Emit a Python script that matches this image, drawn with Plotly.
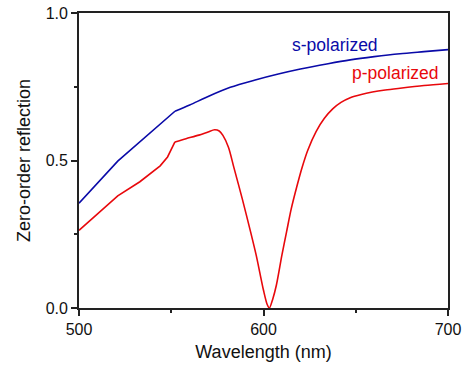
import plotly.graph_objects as go

# Zero-order reflection spectra for s- and p-polarized light
wl_s = [500, 521, 552, 560, 570, 582, 595, 608, 620, 635, 647, 660, 674, 687, 700]
refl_s = [0.355, 0.498, 0.667, 0.688, 0.717, 0.748, 0.772, 0.793, 0.810, 0.828,
          0.841, 0.852, 0.862, 0.869, 0.876]

wl_p = [500, 511, 521, 533, 544, 548, 550, 552, 558, 565, 570, 573.5, 576, 578,
        581, 584, 588.5, 593, 596, 598, 600, 602, 603.2, 605, 607, 610, 612.5, 615,
        618, 621, 624, 628.5, 633, 637.5, 642, 647, 653, 659, 666, 674, 687, 700]
refl_p = [0.263, 0.323, 0.380, 0.428, 0.482, 0.512, 0.535, 0.563, 0.574, 0.586,
          0.597, 0.604, 0.600, 0.585, 0.545, 0.475, 0.370, 0.258, 0.180, 0.120,
          0.060, 0.012, 0.000, 0.030, 0.078, 0.180, 0.258, 0.335, 0.410, 0.478,
          0.535, 0.598, 0.643, 0.675, 0.697, 0.713, 0.724, 0.732, 0.739, 0.745,
          0.754, 0.761]

x_ticks = [500, 600, 700]
y_ticks = [0.0, 0.5, 1.0]

BLUE = "#0a0aa8"
RED = "#e8080c"
AXIS = "#222222"
FONT = "Liberation Sans, Arial, sans-serif"


def add_curve(fig, x, y, color, knee):
    """Straight segments up to the knee index, smooth curve after it."""
    fig.add_trace(go.Scatter(x=x[:knee + 1], y=y[:knee + 1], mode="lines",
                             line=dict(color=color, width=1.6)))
    fig.add_trace(go.Scatter(x=x[knee:], y=y[knee:], mode="lines",
                             line=dict(color=color, width=1.6, shape="spline",
                                       smoothing=0.8)))


fig = go.Figure()
add_curve(fig, wl_s, refl_s, BLUE, knee=2)
add_curve(fig, wl_p, refl_p, RED, knee=7)

fig.add_annotation(x=639, y=0.89, text="s-polarized", showarrow=False,
                   font=dict(color=BLUE, size=17.5, family=FONT))
fig.add_annotation(x=671.5, y=0.795, text="p-polarized", showarrow=False,
                   font=dict(color=RED, size=17.5, family=FONT))

axis_common = dict(
    showline=True, linecolor=AXIS, linewidth=1.8, mirror=True,
    ticks="outside", ticklen=6, tickwidth=1.5, tickcolor=AXIS,
    showgrid=False, zeroline=False,
    tickfont=dict(size=16, family=FONT, color="#111111"),
)

fig.update_xaxes(range=[500, 700], tickvals=x_ticks,
                 ticktext=[str(v) for v in x_ticks],
                 minor=dict(ticks="outside", ticklen=3, dtick=50, tickcolor=AXIS, tickwidth=1.5),
                 title=dict(text="Wavelength (nm)", font=dict(size=18, family=FONT, color="#111111"),
                            standoff=8),
                 **axis_common)
fig.update_yaxes(range=[0, 1], tickvals=y_ticks,
                 ticktext=[f"{v:.1f}" for v in y_ticks],
                 minor=dict(ticks="outside", ticklen=3, dtick=0.25, tickcolor=AXIS, tickwidth=1.5),
                 title=dict(text="Zero-order reflection", font=dict(size=18, family=FONT, color="#111111"),
                            standoff=10),
                 **axis_common)

fig.update_layout(
    width=466, height=365,
    margin=dict(l=79, r=18, t=13, b=57, autoexpand=False),
    plot_bgcolor="white", paper_bgcolor="white",
    showlegend=False,
)

fig.write_html("out.html")
